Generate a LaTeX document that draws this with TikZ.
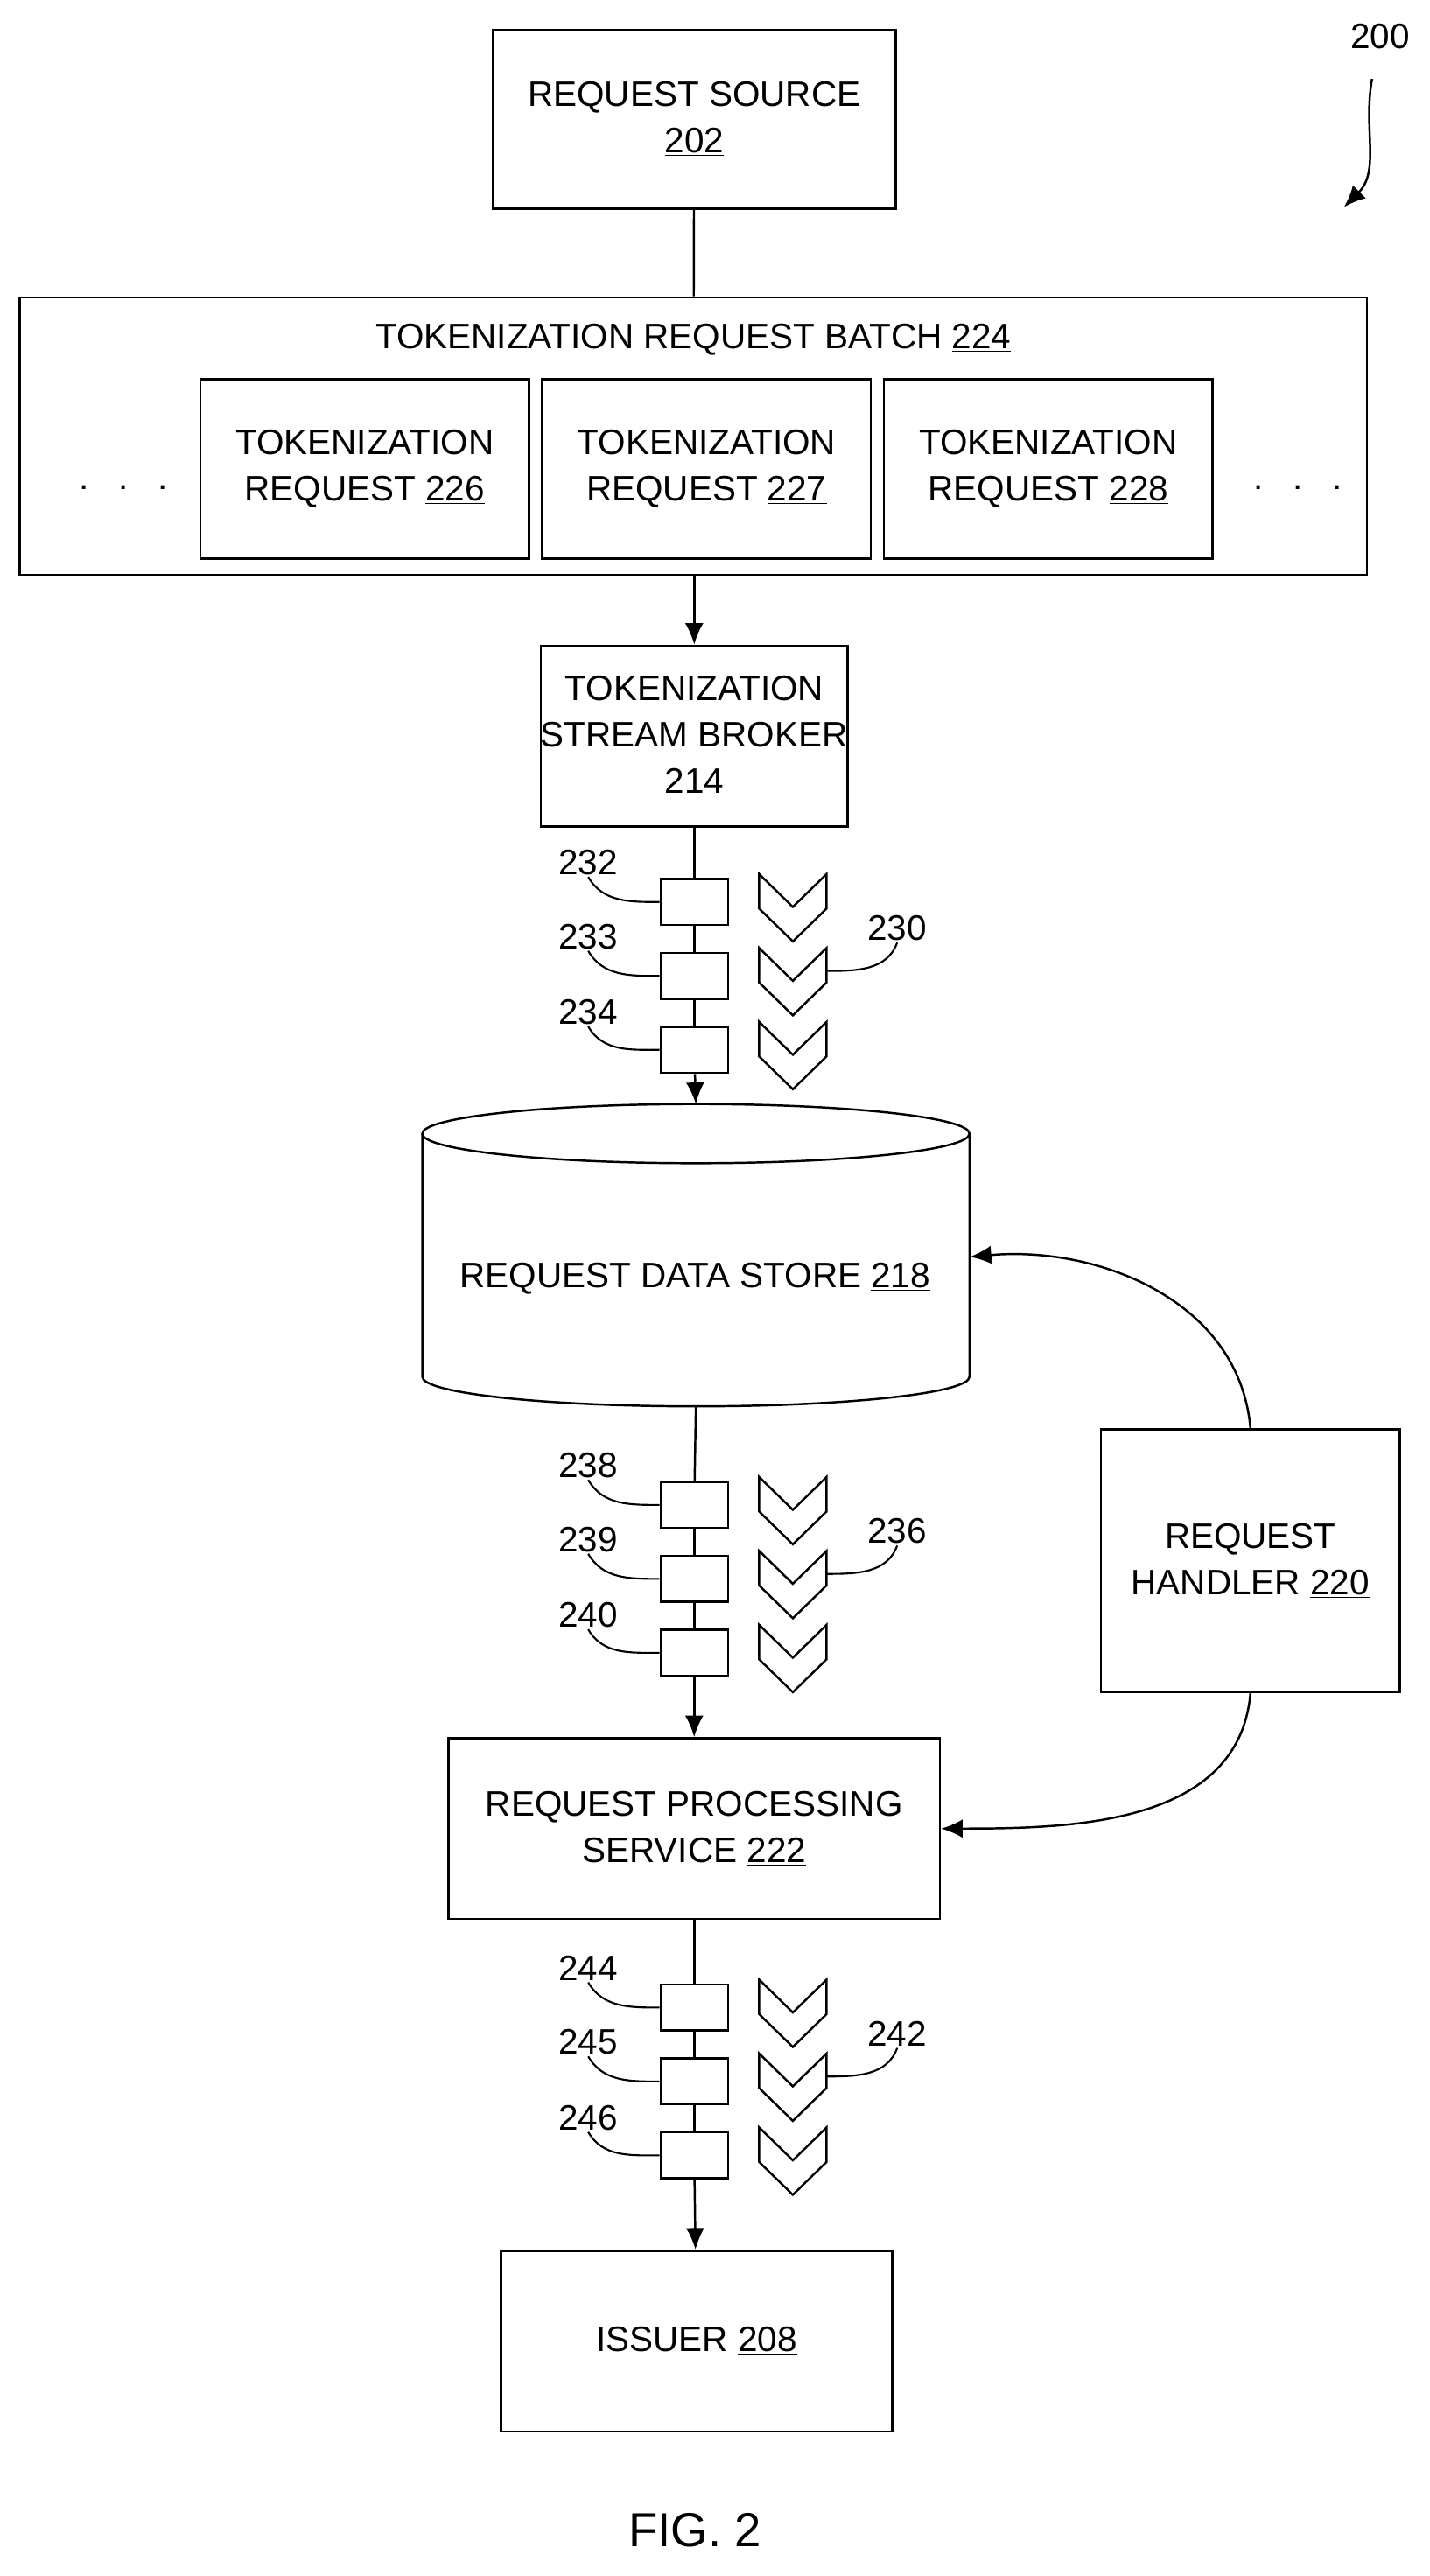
\documentclass[tikz,border=0pt]{standalone}
\usepackage{fontspec}
\setmainfont{Liberation Sans}
\usetikzlibrary{positioning,shapes.geometric,arrows.meta}
\newlength\pxu
\setlength\pxu{0.0375cm}

\begin{document}
\begin{tikzpicture}[
    x=\pxu, y=-\pxu,
    font=\fontsize{23}{30}\selectfont,
    box/.style={rectangle, draw, line width=1.4pt, align=center, inner sep=0pt},
    slot/.style={rectangle, draw, line width=1.4pt, minimum width=41\pxu, minimum height=28\pxu},
    lbl/.style={inner sep=1pt},
    lead/.style={line width=1.2pt},
    arrow/.style={-{Latex[length=14pt,width=12pt]}, line width=1.4pt},
    line/.style={line width=1.4pt}
]
\useasboundingbox (0,0) rectangle (870,1568);

% Nodes
\node[box, minimum width=245\pxu, minimum height=109\pxu] (src) at (422.5,72.5) {REQUEST SOURCE\\\underline{202}};
\node[box, minimum width=820\pxu, minimum height=169\pxu] (batch) at (422,265.5) {};
\node at (422,207) {TOKENIZATION REQUEST BATCH \underline{224}};
\node[box, minimum width=200\pxu, minimum height=109\pxu] (req226) at (222,285.5) {TOKENIZATION\\REQUEST \underline{226}};
\node[box, minimum width=200\pxu, minimum height=109\pxu] (req227) at (430,285.5) {TOKENIZATION\\REQUEST \underline{227}};
\node[box, minimum width=200\pxu, minimum height=109\pxu] (req228) at (638,285.5) {TOKENIZATION\\REQUEST \underline{228}};
\node at (75,297) {.\ \ \ .\ \ \ .};
\node at (790,297) {.\ \ \ .\ \ \ .};
\node[box, minimum width=185\pxu, minimum height=110\pxu] (broker) at (422.5,448) {TOKENIZATION\\STREAM BROKER\\\underline{214}};
% data store as a drawn cylinder
\node[minimum width=333\pxu, minimum height=186\pxu, inner sep=0pt] (store) at (423.5,765) {};
\draw[line] (257,690) -- (257,838) arc[start angle=180, end angle=0, x radius=166.5, y radius=18] -- (590,690);
\draw[line] (423.5,690) ellipse[x radius=166.5, y radius=18];
\node at (423,778) {REQUEST DATA STORE \underline{218}};
\node[box, minimum width=182\pxu, minimum height=160\pxu] (handler) at (761,950) {REQUEST\\HANDLER \underline{220}};
\node[box, minimum width=299\pxu, minimum height=110\pxu] (proc) at (422.5,1113) {REQUEST PROCESSING\\SERVICE \underline{222}};
\node[box, minimum width=238\pxu, minimum height=110\pxu] (issuer) at (424,1425) {ISSUER \underline{208}};
\node[font=\fontsize{31}{36}\selectfont] at (423,1540) {FIG. 2};
\node (fig) at (840,22) {200};
\coordinate (figtip) at (818,126);
\draw[arrow] (835,48) to[out=-100, in=45] (figtip);

% Arrows
\draw[line] (src) -- (batch);
\draw[arrow] (batch.south -| broker) -- (broker);

% Queues
\foreach \grp/\ya/\na/\nb/\nc/\nq in {a/549/232/233/234/230, b/916/238/239/240/236, c/1222/244/245/246/242} {
  \node[slot] (\grp1) at (422.5,\ya) {};
  \node[slot] (\grp2) at (422.5,\ya+45) {};
  \node[slot] (\grp3) at (422.5,\ya+90) {};
  \draw[line] (\grp1) -- (\grp2);
  \draw[line] (\grp2) -- (\grp3);
  \foreach \k in {0,1,2}
    \draw[line, line join=miter] (462,\ya-17+45*\k) -- (482.5,\ya+3+45*\k) -- (503,\ya-17+45*\k)
      -- (503,\ya+4+45*\k) -- (482.5,\ya+24+45*\k) -- (462,\ya+4+45*\k) -- cycle;
  \node[lbl] (l\na) at (358,\ya-24) {\na};
  \node[lbl] (l\nb) at (358,\ya+21) {\nb};
  \node[lbl] (l\nc) at (358,\ya+67) {\nc};
  \draw[lead] (l\na.south) to[out=-60, in=180] (\grp1.west);
  \draw[lead] (l\nb.south) to[out=-60, in=180] (\grp2.west);
  \draw[lead] (l\nc.south) to[out=-60, in=180] (\grp3.west);
  \node[lbl] (l\nq) at (546,\ya+16) {\nq};
  \draw[lead] (l\nq.south) to[out=-110, in=0] (503,\ya+42);
}
\draw[line] (broker) -- (a1);
\draw[arrow] (a3) -- (423.5,672);
\draw[line] (423.5,856) -- (b1);
\draw[arrow] (b3) -- (proc);
\draw[line] (proc) -- (c1);
\draw[arrow] (c3) -- (issuer);
\draw[arrow] (handler.north) to[out=95, in=5] (store.east);
\draw[arrow] (handler.south) to[out=-95, in=0] (proc.east);

\end{tikzpicture}
\end{document}
